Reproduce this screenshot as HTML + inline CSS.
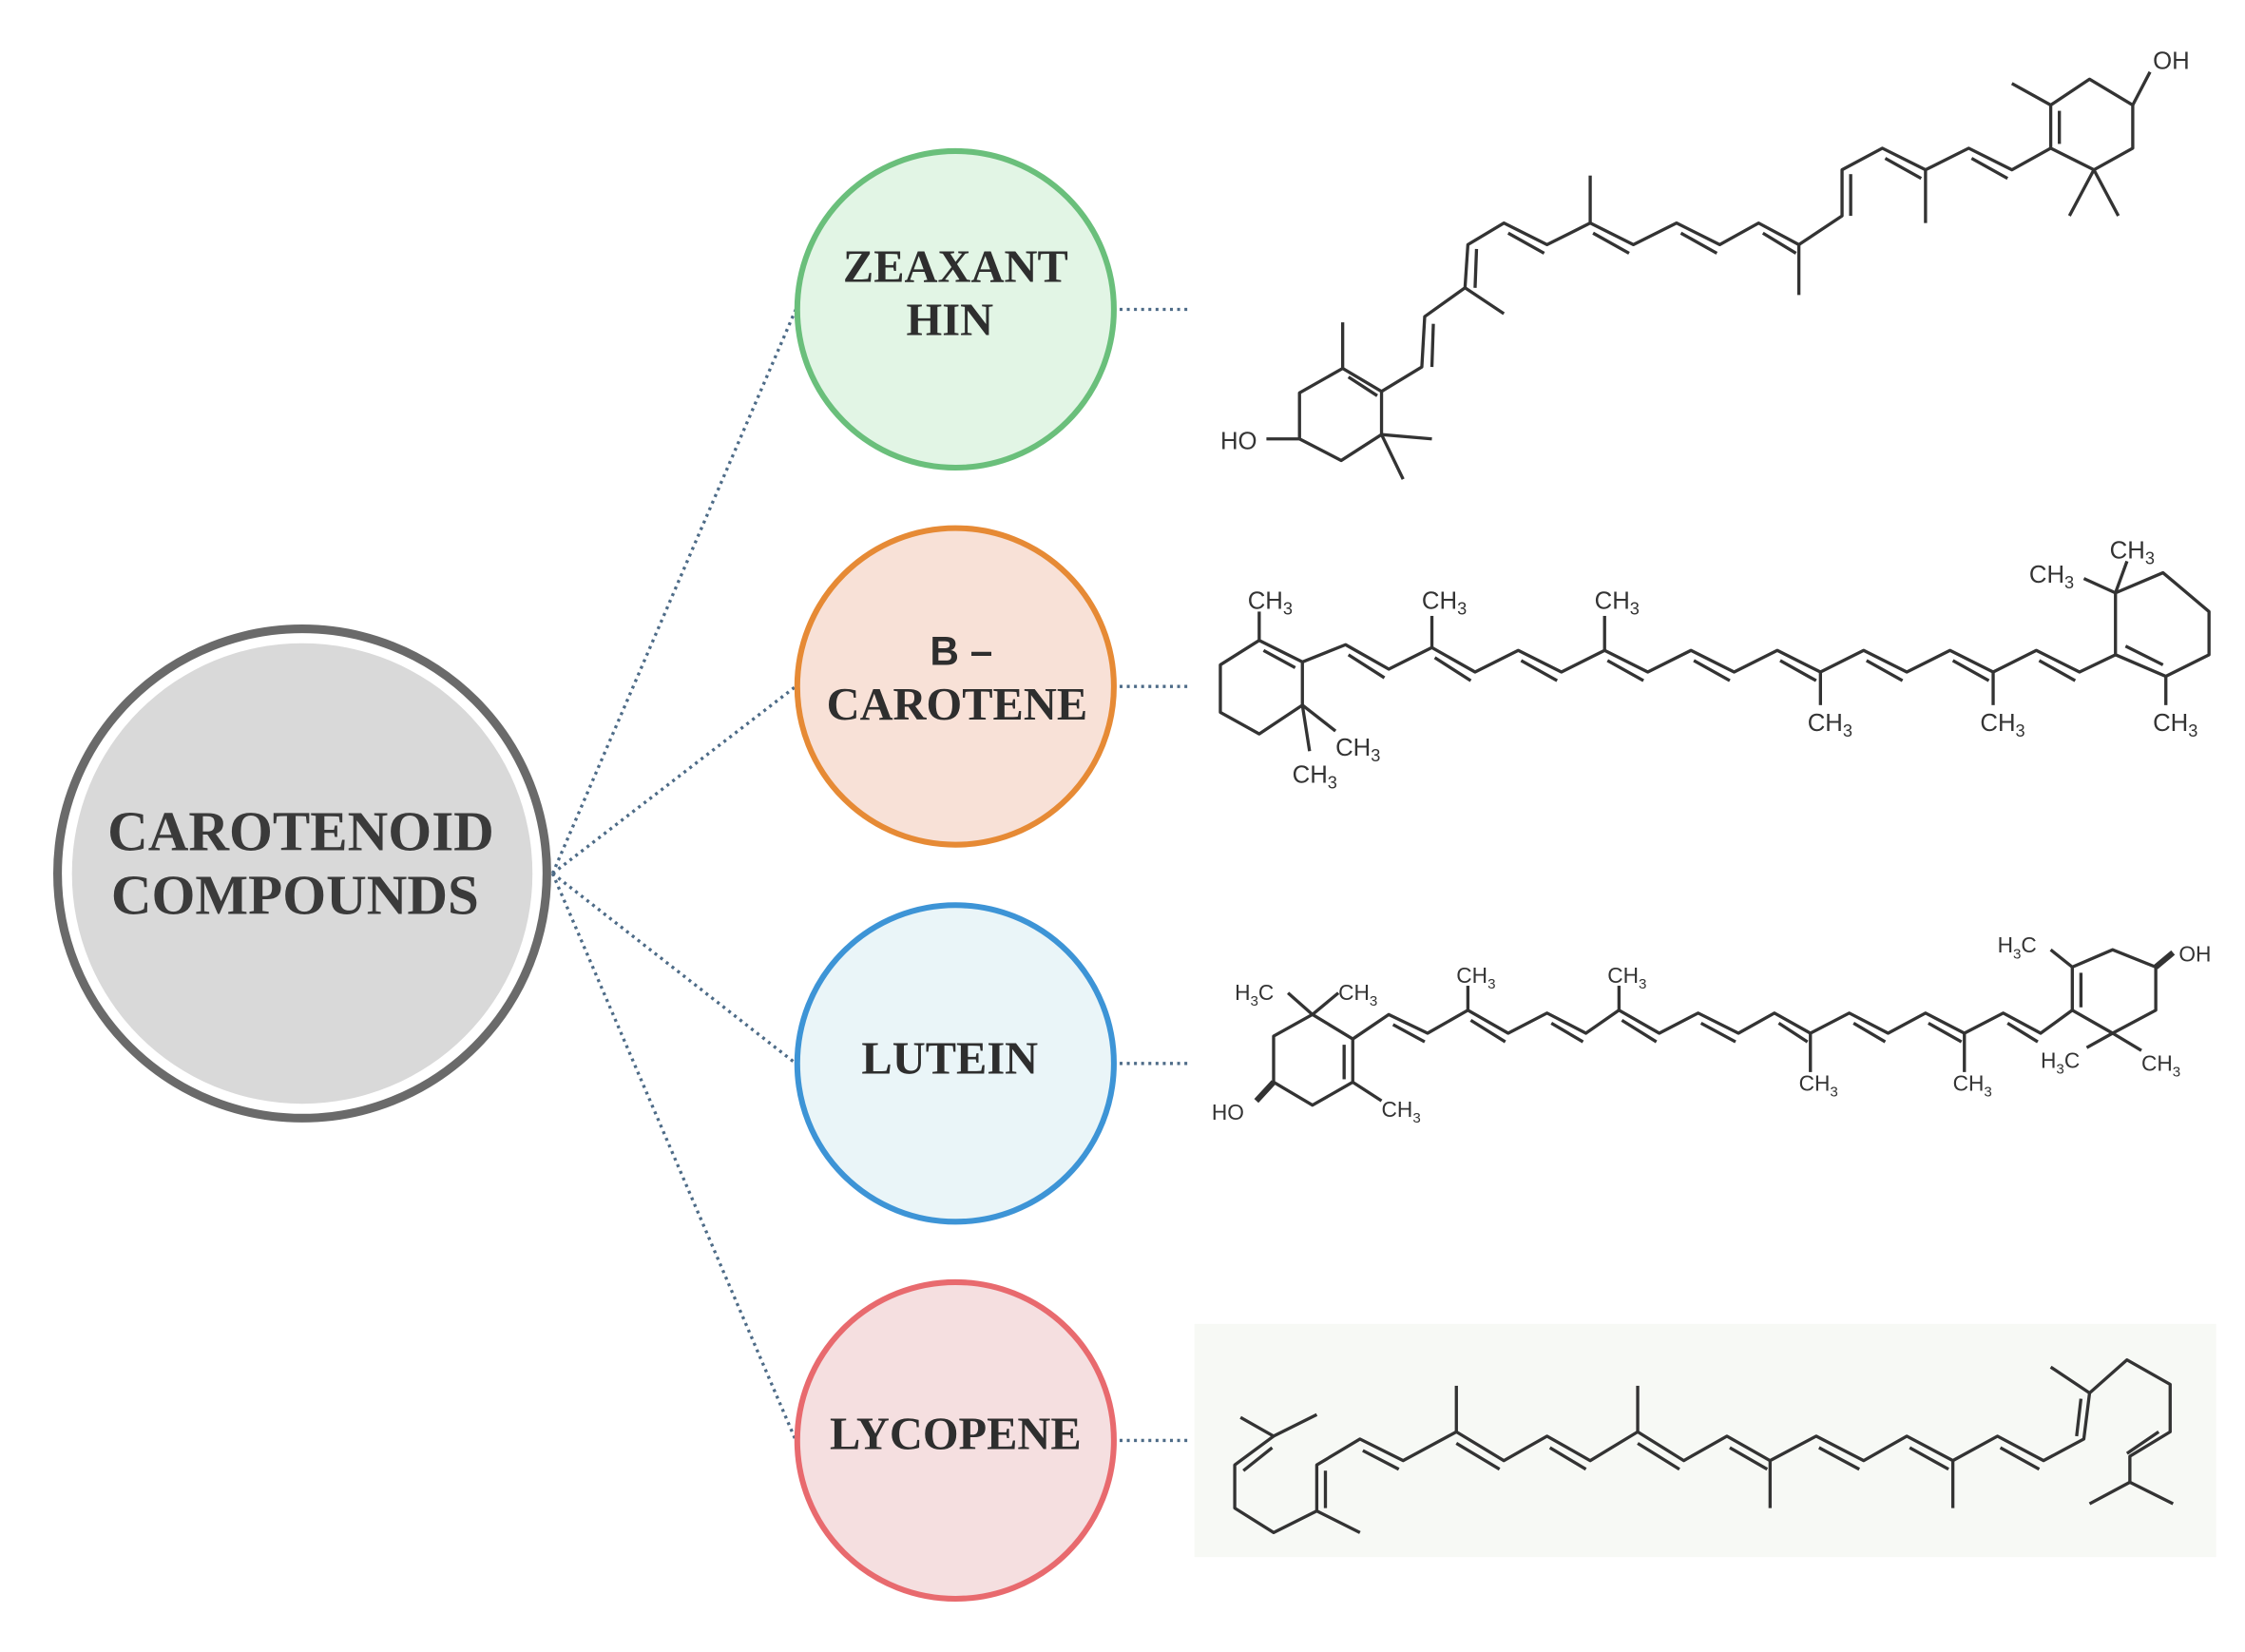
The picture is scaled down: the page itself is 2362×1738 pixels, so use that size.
<!DOCTYPE html>
<html><head><meta charset="utf-8"><style>
html,body{margin:0;padding:0;background:#fff;}
svg{display:block;}
</style></head><body>
<svg width="2362" height="1738" viewBox="0 0 1560 1148" preserveAspectRatio="none" xmlns="http://www.w3.org/2000/svg">
<rect width="1560" height="1148" fill="#fff"/>
<rect x="830" y="920" width="710" height="162" fill="#f7f9f5"/>
<g stroke="#4d6b87" stroke-width="2.2" stroke-dasharray="2 3" fill="none">
<line x1="384" y1="607" x2="553" y2="215"/>
<line x1="384" y1="607" x2="553" y2="477"/>
<line x1="384" y1="607" x2="553" y2="739"/>
<line x1="384" y1="607" x2="553" y2="1001"/>
<line x1="778" y1="215" x2="828" y2="215"/>
<line x1="778" y1="477" x2="828" y2="477"/>
<line x1="778" y1="739" x2="828" y2="739"/>
<line x1="778" y1="1001" x2="828" y2="1001"/>
</g>
<circle cx="210" cy="607" r="170" fill="#fff" stroke="#6a6a6a" stroke-width="6"/>
<circle cx="210" cy="607" r="160" fill="#d9d9d9"/>
<g font-family="Liberation Serif, serif" font-weight="bold" fill="#3a3a3a" text-anchor="middle">
<text x="209" y="591" font-size="39">CAROTENOID</text>
<text x="205" y="635" font-size="39">COMPOUNDS</text>
</g>
<circle cx="664" cy="215" r="110" fill="#e2f5e5" stroke="#6abf7b" stroke-width="4"/>
<circle cx="664" cy="477" r="110" fill="#f8e1d7" stroke="#e68a35" stroke-width="4"/>
<circle cx="664" cy="739" r="110" fill="#eaf5f8" stroke="#3d94d6" stroke-width="4"/>
<circle cx="664" cy="1001" r="110" fill="#f5dfe0" stroke="#e86a6e" stroke-width="4"/>
<g font-family="Liberation Serif, serif" font-weight="bold" fill="#2e2e2e" text-anchor="middle" font-size="32">
<text x="664" y="196">ZEAXANT</text>
<text x="660" y="233">HIN</text>
<text x="668" y="462" font-family="Liberation Sans, sans-serif" font-size="28">B –</text>
<text x="665" y="500">CAROTENE</text>
<text x="660" y="746">LUTEIN</text>
<text x="664" y="1007">LYCOPENE</text>
</g>
<g stroke="#333" stroke-width="2.2" fill="none" stroke-linejoin="round">
<polyline points="903,305 903,273 933,256 960,272 960,302 932,320 903,305"/>
<line x1="937" y1="262" x2="957" y2="275"/>
<line x1="933" y1="256" x2="933" y2="224"/>
<line x1="960" y1="302" x2="975" y2="333"/><line x1="960" y1="302" x2="995" y2="305"/>
<line x1="903" y1="305" x2="880" y2="305"/>
<polyline points="960,272 988,255 990,220 1018,200 1020,170 1045,155 1075,170 1105,155 1135,170 1165,155 1195,170 1222,155 1250,170 1280,150 1280,118 1308,103 1338,118 1368,103 1398,118 1425,103"/>
<line x1="995" y1="255" x2="996" y2="225"/><line x1="1025" y1="200" x2="1026" y2="173"/>
<line x1="1018" y1="200" x2="1045" y2="218"/>
<line x1="1048" y1="162" x2="1073" y2="176"/><line x1="1107" y1="162" x2="1132" y2="176"/>
<line x1="1105" y1="155" x2="1105" y2="122"/>
<line x1="1168" y1="162" x2="1193" y2="176"/><line x1="1225" y1="162" x2="1248" y2="176"/>
<line x1="1250" y1="170" x2="1250" y2="205"/>
<line x1="1286" y1="150" x2="1286" y2="121"/><line x1="1310" y1="110" x2="1335" y2="124"/>
<line x1="1338" y1="118" x2="1338" y2="155"/><line x1="1370" y1="110" x2="1395" y2="124"/>
<polyline points="1425,103 1425,73 1452,55 1482,73 1482,103 1455,118 1425,103"/>
<line x1="1431" y1="77" x2="1431" y2="100"/>
<line x1="1425" y1="73" x2="1398" y2="58"/>
<line x1="1482" y1="73" x2="1494" y2="50"/>
<line x1="1455" y1="118" x2="1438" y2="150"/><line x1="1455" y1="118" x2="1472" y2="150"/>
<polyline points="905,460 905,490 875,510 848,495 848,462 875,445 905,460"/>
<line x1="878" y1="452" x2="900" y2="464"/>
<line x1="875" y1="445" x2="875" y2="425"/>
<line x1="905" y1="490" x2="928" y2="508"/><line x1="905" y1="490" x2="910" y2="522"/>
<polyline points="905,460 935,448 965,465 995,450 1025,467 1055,452 1085,467 1115,452 1145,467 1175,452 1205,467 1235,452 1265,467 1295,452 1325,467 1355,452 1385,467 1415,452 1445,467 1470,455"/>
<line x1="937" y1="455" x2="962" y2="471"/><line x1="997" y1="457" x2="1022" y2="473"/>
<line x1="1057" y1="459" x2="1082" y2="473"/><line x1="1117" y1="459" x2="1142" y2="473"/>
<line x1="1177" y1="459" x2="1202" y2="473"/><line x1="1237" y1="459" x2="1262" y2="473"/>
<line x1="1297" y1="459" x2="1322" y2="473"/><line x1="1357" y1="459" x2="1382" y2="473"/>
<line x1="1417" y1="459" x2="1442" y2="473"/>
<line x1="995" y1="450" x2="995" y2="428"/><line x1="1115" y1="452" x2="1115" y2="428"/>
<line x1="1265" y1="467" x2="1265" y2="490"/><line x1="1385" y1="467" x2="1385" y2="490"/>
<polyline points="1470,455 1470,412 1503,398 1535,425 1535,455 1505,470 1470,455"/>
<line x1="1477" y1="449" x2="1503" y2="462"/>
<line x1="1505" y1="470" x2="1505" y2="490"/>
<line x1="1470" y1="412" x2="1448" y2="402"/><line x1="1470" y1="412" x2="1478" y2="390"/>
<polyline points="940,722 940,752 912,768 885,752 885,720 912,705 940,722"/>
<line x1="934" y1="726" x2="934" y2="750"/>
<line x1="912" y1="705" x2="895" y2="690"/><line x1="912" y1="705" x2="930" y2="690"/>
<line x1="940" y1="752" x2="960" y2="765"/>
<line x1="885" y1="752" x2="873" y2="765" stroke-width="4"/>
<polyline points="940,722 965,705 992,718 1020,702 1048,718 1075,704 1102,718 1125,702 1153,718 1180,704 1208,718 1233,704 1258,718 1285,704 1312,718 1338,704 1365,718 1392,704 1418,718 1440,702"/>
<line x1="968" y1="712" x2="990" y2="724"/><line x1="1022" y1="709" x2="1046" y2="724"/>
<line x1="1020" y1="702" x2="1020" y2="685"/><line x1="1125" y1="702" x2="1125" y2="685"/>
<line x1="1078" y1="711" x2="1100" y2="724"/><line x1="1127" y1="709" x2="1151" y2="724"/>
<line x1="1182" y1="711" x2="1206" y2="724"/><line x1="1236" y1="711" x2="1256" y2="724"/>
<line x1="1288" y1="711" x2="1310" y2="724"/><line x1="1340" y1="711" x2="1363" y2="724"/>
<line x1="1258" y1="718" x2="1258" y2="745"/><line x1="1365" y1="718" x2="1365" y2="745"/>
<line x1="1395" y1="711" x2="1416" y2="724"/>
<polyline points="1440,702 1440,672 1468,660 1498,672 1498,702 1468,718 1440,702"/>
<line x1="1446" y1="676" x2="1446" y2="700"/>
<line x1="1440" y1="672" x2="1425" y2="660"/>
<line x1="1498" y1="672" x2="1510" y2="662" stroke-width="4"/>
<line x1="1468" y1="718" x2="1450" y2="728"/><line x1="1468" y1="718" x2="1488" y2="730"/>
<polyline points="862,985 885,998 915,983"/>
<polyline points="885,998 858,1018 858,1048 885,1065 915,1050 945,1065"/>
<line x1="864" y1="1022" x2="884" y2="1006"/>
<polyline points="915,1050 915,1018 945,1000 975,1015 1012,995 1045,1015 1075,998 1105,1015 1138,995 1170,1015 1200,998 1230,1015 1262,998 1295,1015 1325,998 1357,1015 1388,998 1420,1015 1448,1000 1452,968 1478,945 1508,962 1508,995 1480,1012 1480,1030"/>
<line x1="921" y1="1022" x2="921" y2="1048"/>
<line x1="947" y1="1008" x2="972" y2="1021"/><line x1="1012" y1="1003" x2="1042" y2="1021"/>
<line x1="1077" y1="1006" x2="1102" y2="1021"/><line x1="1138" y1="1003" x2="1167" y2="1021"/>
<line x1="1202" y1="1006" x2="1228" y2="1021"/><line x1="1264" y1="1006" x2="1292" y2="1021"/>
<line x1="1327" y1="1006" x2="1354" y2="1021"/><line x1="1390" y1="1006" x2="1417" y2="1021"/>
<line x1="1446" y1="972" x2="1443" y2="998"/>
<line x1="1012" y1="995" x2="1012" y2="963"/><line x1="1138" y1="995" x2="1138" y2="963"/>
<line x1="1230" y1="1015" x2="1230" y2="1048"/><line x1="1357" y1="1015" x2="1357" y2="1048"/>
<line x1="1452" y1="968" x2="1425" y2="950"/>
<line x1="1500" y1="995" x2="1478" y2="1010"/>
<line x1="1480" y1="1030" x2="1452" y2="1045"/><line x1="1480" y1="1030" x2="1510" y2="1045"/>
</g>
<g font-family="Liberation Sans, sans-serif" fill="#333" font-size="17">
<text x="848" y="312">HO</text>
<text x="1496" y="48">OH</text>
<text x="867" y="423">CH<tspan font-size="12" dy="4">3</tspan></text>
<text x="988" y="423">CH<tspan font-size="12" dy="4">3</tspan></text>
<text x="1108" y="423">CH<tspan font-size="12" dy="4">3</tspan></text>
<text x="928" y="525">CH<tspan font-size="12" dy="4">3</tspan></text>
<text x="898" y="544">CH<tspan font-size="12" dy="4">3</tspan></text>
<text x="1256" y="508">CH<tspan font-size="12" dy="4">3</tspan></text>
<text x="1376" y="508">CH<tspan font-size="12" dy="4">3</tspan></text>
<text x="1496" y="508">CH<tspan font-size="12" dy="4">3</tspan></text>
<text x="1410" y="405">CH<tspan font-size="12" dy="4">3</tspan></text>
<text x="1466" y="388">CH<tspan font-size="12" dy="4">3</tspan></text>
<text x="858" y="695" font-size="15">H<tspan font-size="10" dy="4">3</tspan><tspan dy="-4">C</tspan></text>
<text x="930" y="695" font-size="15">CH<tspan font-size="10" dy="4">3</tspan></text>
<text x="842" y="778" font-size="15">HO</text>
<text x="960" y="776" font-size="15">CH<tspan font-size="10" dy="4">3</tspan></text>
<text x="1012" y="683" font-size="15">CH<tspan font-size="10" dy="4">3</tspan></text>
<text x="1117" y="683" font-size="15">CH<tspan font-size="10" dy="4">3</tspan></text>
<text x="1250" y="758" font-size="15">CH<tspan font-size="10" dy="4">3</tspan></text>
<text x="1357" y="758" font-size="15">CH<tspan font-size="10" dy="4">3</tspan></text>
<text x="1388" y="662" font-size="15">H<tspan font-size="10" dy="4">3</tspan><tspan dy="-4">C</tspan></text>
<text x="1514" y="668" font-size="15">OH</text>
<text x="1418" y="742" font-size="15">H<tspan font-size="10" dy="4">3</tspan><tspan dy="-4">C</tspan></text>
<text x="1488" y="744" font-size="15">CH<tspan font-size="10" dy="4">3</tspan></text>
</g>
</svg>
</body></html>
